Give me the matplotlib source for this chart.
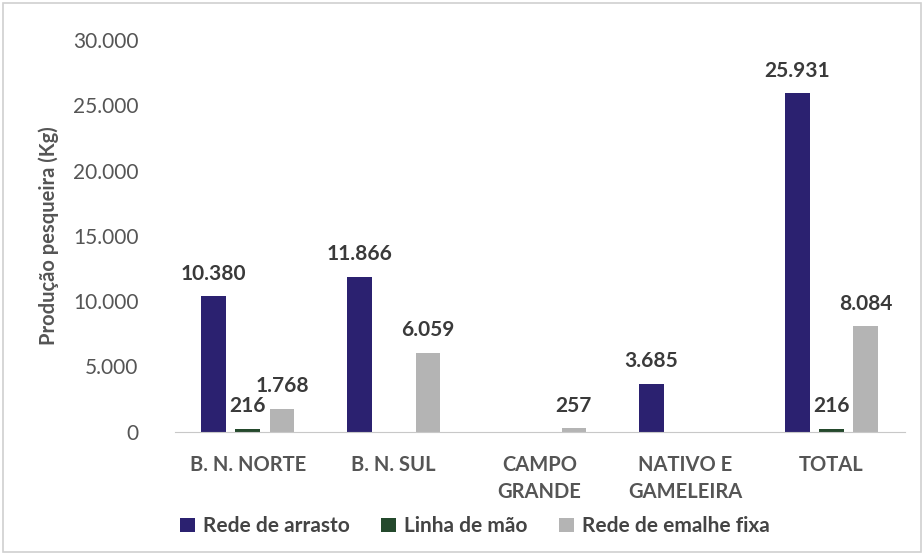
import numpy as np
import matplotlib
matplotlib.use("Agg")
import matplotlib.pyplot as plt
from matplotlib.ticker import FuncFormatter

# data
categories = ["B. N. NORTE", "B. N. SUL", "CAMPO\nGRANDE", "NATIVO E\nGAMELEIRA", "TOTAL"]
rede_arrasto = [10380, 11866, 0, 3685, 25931]
linha_mao = [216, 0, 0, 0, 216]
rede_emalhe = [1768, 6059, 257, 0, 8084]
series_names = ["Rede de arrasto", "Linha de mão", "Rede de emalhe fixa"]
colors = ["#2b2170", "#24492c", "#b4b4b4"]

plt.rcParams['font.family'] = ['Lato', 'DejaVu Sans']

fig = plt.figure(figsize=(9.24, 5.55), dpi=100)
fig.patch.set_facecolor("white")
# light border round the figure
fig.add_artist(plt.Rectangle((0.003, 0.005), 0.994, 0.99, transform=fig.transFigure,
                             fill=False, edgecolor="#d0d0d0", lw=1.2))

ax = fig.add_axes([0.189, 0.222, 0.79, 0.706])

x = np.arange(len(categories))
width = 0.17
offset = 0.235
all_series = [rede_arrasto, linha_mao, rede_emalhe]

def fmt(v):
    return f"{v:,.0f}".replace(",", ".")

for i, (vals, name, c) in enumerate(zip(all_series, series_names, colors)):
    pos = x + (i - 1) * offset
    bars = ax.bar(pos, vals, width, color=c, label=name)
    for b, v in zip(bars, vals):
        if v > 0:
            ax.annotate(fmt(v), (b.get_x() + b.get_width() / 2, v),
                        xytext=(0, 9), textcoords="offset points",
                        ha="center", va="bottom", fontsize=15, fontweight="bold",
                        color="#3a3a3a")

ax.set_xlim(-0.5, len(categories) - 0.5)
ax.set_ylim(0, 30000)
ax.set_yticks(np.arange(0, 30001, 5000))
ax.yaxis.set_major_formatter(FuncFormatter(lambda v, p: fmt(v)))
ax.set_xticks(x)
ax.set_xticklabels(categories, fontsize=14.5, fontweight="bold", color="#555555",
                   linespacing=1.4, va="top")
ax.tick_params(axis="y", length=0, labelsize=15, labelcolor="#555555", pad=26)
ax.tick_params(axis="x", length=0, pad=17)

for s in ["top", "right", "left"]:
    ax.spines[s].set_visible(False)
ax.spines["bottom"].set_color("#c8c8c8")

ax.set_ylabel("Produção pesqueira (Kg)", fontsize=14.5, fontweight="bold",
              color="#555555", labelpad=10)

fig.legend(loc="lower left", bbox_to_anchor=(0.175, 0.0), ncol=3, frameon=False,
           prop={"size": 15, "weight": "bold"}, handlelength=0.7, handleheight=0.7,
           handletextpad=0.4, columnspacing=1.5, labelcolor="#444444")

fig.savefig("out.png", dpi=100)
